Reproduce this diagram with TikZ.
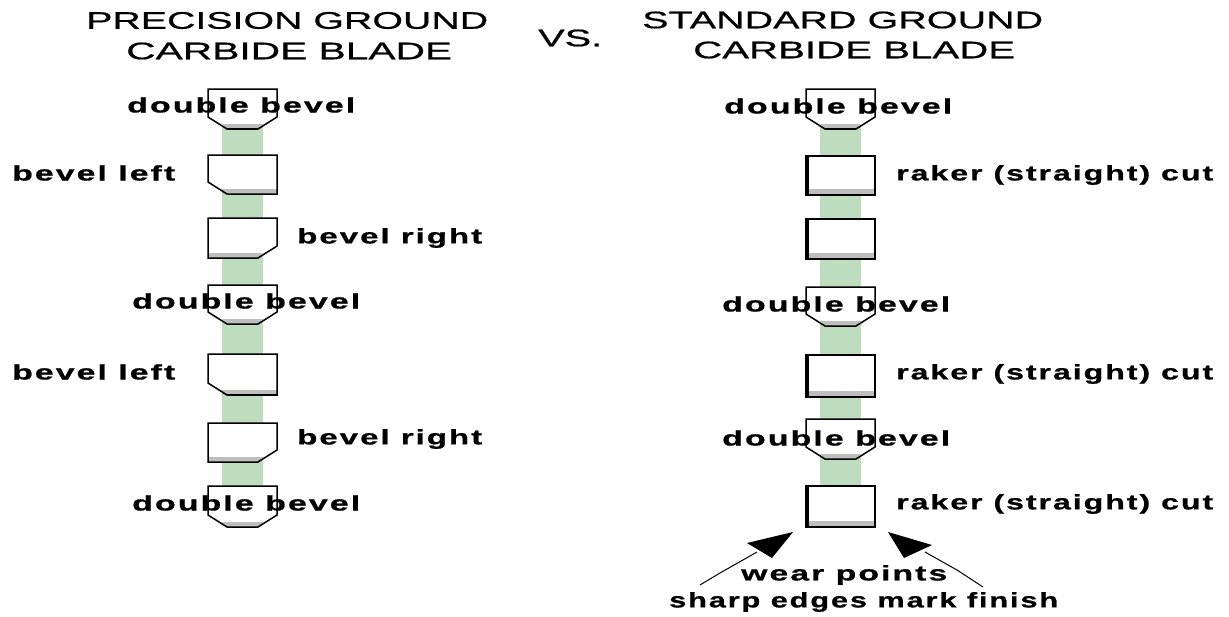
\documentclass[tikz,border=0pt]{standalone}
\usepackage{fontspec}
\usepackage{graphicx}
\setmainfont[FakeStretch=1.65,FakeBold=0.6]{Liberation Sans}
\newfontfamily\lblfont[LetterSpace=9,FakeStretch=1.5,FakeBold=0.8]{Liberation Sans Bold}
\newcommand{\fitw}[2]{\resizebox{#1pt}{\height}{#2}}
\definecolor{stripgreen}{RGB}{190,220,190}
\definecolor{bandgrey}{RGB}{190,190,190}
\tikzset{
  title/.style={inner sep=0pt,anchor=west,font=\fontsize{24}{30}\selectfont},
  lbl/.style={inner sep=0pt,anchor=west,font=\fontsize{21}{24}\lblfont},
  strip/.style={fill=stripgreen,draw=none},
  blade/.style={draw=black,line width=1.5pt,fill=white,line join=miter},
  band/.style={fill=bandgrey,draw=none},
  wear/.style={draw=black,line width=1pt},
  wearhead/.style={fill=black,draw=none}
}
% #1 x-left, #2 y-top, #3 y-bottom
\newcommand{\dbl}[3]{%
  \fill[white] (#1,#2) -- (#1+69,#2) -- (#1+69,#3-12) -- (#1+50,#3) -- (#1+19,#3) -- (#1,#3-12) -- cycle;
  \fill[band] (#1+14,#3-5) -- (#1+55,#3-5) -- (#1+50,#3) -- (#1+19,#3) -- cycle;
  \draw[blade,fill=none] (#1,#2) -- (#1+69,#2) -- (#1+69,#3-12) -- (#1+50,#3) -- (#1+19,#3) -- (#1,#3-12) -- cycle;}
\newcommand{\bvl}[3]{%
  \fill[white] (#1,#2) -- (#1+69,#2) -- (#1+69,#3) -- (#1+19,#3) -- (#1,#3-12) -- cycle;
  \fill[band] (#1+14,#3-5) rectangle (#1+69,#3);
  \draw[blade,fill=none] (#1,#2) -- (#1+69,#2) -- (#1+69,#3) -- (#1+19,#3) -- (#1,#3-12) -- cycle;}
\newcommand{\bvr}[3]{%
  \fill[white] (#1,#2) -- (#1+69,#2) -- (#1+69,#3-12) -- (#1+50,#3) -- (#1,#3) -- cycle;
  \fill[band] (#1,#3-5) -- (#1+55,#3-5) -- (#1+50,#3) -- (#1,#3) -- cycle;
  \draw[blade,fill=none] (#1,#2) -- (#1+69,#2) -- (#1+69,#3-12) -- (#1+50,#3) -- (#1,#3) -- cycle;}
\newcommand{\rak}[3]{%
  \fill[white] (#1,#2) rectangle (#1+69,#3);
  \fill[band] (#1,#3-6) rectangle (#1+69,#3);
  \draw[blade,fill=none] (#1,#2) rectangle (#1+69,#3);
  \draw[line width=3.5pt] (#1+1,#2) -- (#1+1,#3);
  \draw[line width=2.5pt] (#1,#3) -- (#1+69,#3);}
\begin{document}
\begin{tikzpicture}[x=1pt,y=-1pt]
\useasboundingbox (0,0) rectangle (1229,616);
\fill[white] (0,0) rectangle (1229,616);
\fill[strip] (222,125) rectangle (263,490);
\fill[strip] (820,125) rectangle (861,528);
\bvl{208}{155}{194}
\bvr{208}{218}{258}
\dbl{208}{285}{324}
\bvl{208}{354}{395}
\draw[line width=2.5pt] (227,395) -- (277,395);
\bvr{208}{423}{462}
\dbl{208}{486}{527}
\dbl{208}{89}{129}
\draw[line width=2.5pt] (227,129) -- (258,129);
\dbl{806}{89}{129}
\draw[line width=2.5pt] (825,129) -- (856,129);
\rak{806}{156}{195}
\rak{806}{219}{259}
\dbl{806}{287}{326}
\rak{806}{355}{397}
\dbl{806}{419}{459}
\rak{806}{486}{527}
\node[title] (t1a) at (86,20.5) {\fitw{402}{PRECISION GROUND}};
\node[title] (t1b) at (126,51) {\fitw{326}{CARBIDE BLADE}};
\node[title] (t2a) at (642,20) {\fitw{401}{STANDARD GROUND}};
\node[title] (t2b) at (693,50) {\fitw{322}{CARBIDE BLADE}};
\node[title] (vs) at (538,38) {\fitw{64}{VS.}};
\node[lbl] (l1) at (127,105) {\fitw{228}{double bevel}};
\node[lbl] (l2) at (12,173) {\fitw{163}{bevel left}};
\node[lbl] (l3) at (297,238) {\fitw{185}{bevel right}};
\node[lbl] (l4) at (132,301) {\fitw{228}{double bevel}};
\node[lbl] (l5) at (12,372) {\fitw{163}{bevel left}};
\node[lbl] (l6) at (297,439) {\fitw{185}{bevel right}};
\node[lbl] (l7) at (132,503) {\fitw{228}{double bevel}};
\node[lbl] (r1) at (724,106) {\fitw{228}{double bevel}};
\node[lbl] (r2) at (896,175) {\fitw{317}{raker (straight) cut}};
\node[lbl] (r3) at (722,304) {\fitw{228}{double bevel}};
\node[lbl] (r4) at (896,374) {\fitw{317}{raker (straight) cut}};
\node[lbl] (r5) at (722,438) {\fitw{228}{double bevel}};
\node[lbl] (r6) at (896,504) {\fitw{317}{raker (straight) cut}};
\node[lbl] (w1) at (741,575) {\fitw{206}{wear points}};
\node[lbl] (w2) at (669,602) {\fitw{389}{sharp edges mark finish}};
\fill[wearhead] (793,532) -- (747,543) -- (772,558) -- cycle;
\fill[wearhead] (888,532) -- (932,545) -- (904,558) -- cycle;
\coordinate (e1) at (700,585);
\coordinate (m1) at (720,573);
\coordinate (h1) at (757,552);
\coordinate (e2) at (983,587);
\coordinate (m2) at (957,570);
\coordinate (h2) at (925,552);
\draw[wear] (e1) -- (m1) -- (h1);
\draw[wear] (e2) -- (m2) -- (h2);
\end{tikzpicture}
\end{document}
